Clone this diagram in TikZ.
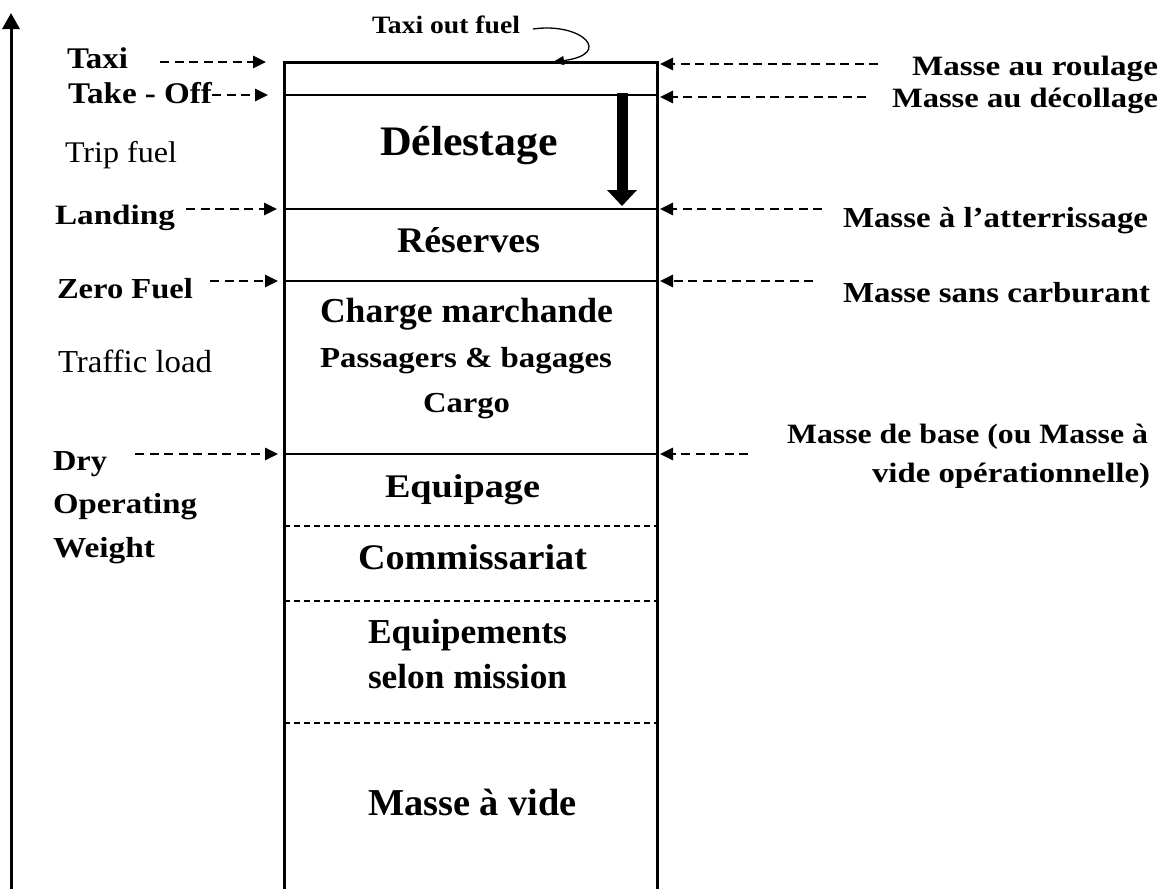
\documentclass[tikz,border=0pt]{standalone}
\usepackage{fontspec}
\setmainfont{Liberation Serif}
\usepackage{graphicx}
\usetikzlibrary{arrows.meta}
\newcommand{\fitt}[3]{{\fontsize{#1}{#1}\selectfont\resizebox{#2pt}{\height}{#3}}}
\tikzset{
  lbl/.style={anchor=base west, inner sep=0pt, outer sep=0pt, font=\bfseries},
  lblreg/.style={anchor=base west, inner sep=0pt, outer sep=0pt, font=\mdseries},
  dasharrow/.style={line width=2.6pt, dash pattern=on 9pt off 5.5pt, -{Triangle[length=13pt,width=12pt]}},
  wall/.style={line width=3pt},
  divider/.style={line width=1.4pt},
  subdivider/.style={line width=1.1pt, dash pattern=on 6pt off 4pt},
}
\begin{document}
\begin{tikzpicture}[x=1pt,y=-1pt]
\useasboundingbox (0,0) rectangle (1173,889);

% vertical axis
\coordinate (axB) at (11,889);
\coordinate (axT) at (11,13);
\draw[line width=3pt, -{Triangle[length=16pt,width=17pt]}] (axB) -- (axT);

% box
\coordinate (bl) at (284,889);
\coordinate (tl) at (284,62);
\coordinate (tr) at (657,62);
\coordinate (br) at (657,889);
\draw[wall] (bl) -- (tl) -- (tr) -- (br);
\draw[divider] (284,95) -- (657,95);
\draw[divider] (284,209) -- (657,209);
\draw[divider] (284,281) -- (657,281);
\draw[divider] (284,454) -- (657,454);
\draw[subdivider] (284,526) -- (657,526);
\draw[subdivider] (284,601) -- (657,601);
\draw[subdivider] (284,723) -- (657,723);

% thick arrow (Délestage)
\coordinate (dA) at (622,93);
\coordinate (dB) at (622,206);
\draw[line width=11pt, -{Triangle[length=16pt,width=29pt]}] (dA) -- (dB);

% box contents
\node[lbl] (delest) at (380,155) {\fitt{42}{178}{Délestage}};
\node[lbl] (reserv) at (397,252) {\fitt{36}{143}{Réserves}};
\node[lbl] (charge) at (320,322) {\fitt{35}{293}{Charge marchande}};
\node[lbl] (passag) at (320,367) {\fitt{29}{292}{Passagers \& bagages}};
\node[lbl] (cargo) at (423,412) {\fitt{29}{87}{Cargo}};
\node[lbl] (equipa) at (385,497) {\fitt{33}{155}{Equipage}};
\node[lbl] (commis) at (358,569) {\fitt{36}{229}{Commissariat}};
\node[lbl] (equipe) at (368,643) {\fitt{35}{199}{Equipements}};
\node[lbl] (selon) at (368,688) {\fitt{35}{199}{selon mission}};
\node[lbl] (mvide) at (368,815) {\fitt{38}{209}{Masse à vide}};

% taxi out fuel
\node[lbl] (tof) at (372,33) {\fitt{25}{148}{Taxi out fuel}};
\coordinate (tofS) at (533,29);
\coordinate (tofE) at (553,62);
\draw[line width=1.3pt, -{Triangle[length=11pt,width=9pt]}] (tofS) .. controls (582,22) and (614,54) .. (tofE);

% left labels
\node[lbl] (taxi) at (67,68) {\fitt{30}{61}{Taxi}};
\node[lbl] (takeoff) at (68,103) {\fitt{30}{144}{Take - Off}};
\node[lblreg] (trip) at (65,162) {\fitt{30}{112}{Trip fuel}};
\node[lbl] (landing) at (55,224) {\fitt{28}{120}{Landing}};
\node[lbl] (zero) at (57,298) {\fitt{29}{136}{Zero Fuel}};
\node[lblreg] (traffic) at (58,372) {\fitt{32}{154}{Traffic load}};
\node[lbl] (dry) at (53,470) {\fitt{29}{54}{Dry}};
\node[lbl] (operating) at (53,513) {\fitt{29}{144}{Operating}};
\node[lbl] (weight) at (53,557) {\fitt{29}{102}{Weight}};

\coordinate (taxiS) at (160,62);   \coordinate (taxiE) at (266,62);
\coordinate (toS) at (212,95);     \coordinate (toE) at (268,95);
\coordinate (landS) at (186,209);  \coordinate (landE) at (277,209);
\coordinate (zeroS) at (210,281);  \coordinate (zeroE) at (278,281);
\coordinate (dowS) at (135,454);   \coordinate (dowE) at (278,454);
\draw[dasharrow] (taxiS) -- (taxiE);
\draw[dasharrow] (toS) -- (toE);
\draw[dasharrow] (landS) -- (landE);
\draw[dasharrow] (zeroS) -- (zeroE);
\draw[dasharrow] (dowS) -- (dowE);

% right labels
\node[lbl] (mroul) at (912,75) {\fitt{28}{246}{Masse au roulage}};
\node[lbl] (mdeco) at (892,107) {\fitt{28}{266}{Masse au décollage}};
\node[lbl] (matt) at (843,227) {\fitt{29}{305}{Masse à l’atterrissage}};
\node[lbl] (msans) at (843,302) {\fitt{29}{307}{Masse sans carburant}};
\node[lbl] (mbase1) at (787,443) {\fitt{28}{361}{Masse de base (ou Masse à}};
\node[lbl] (mbase2) at (872,482) {\fitt{28}{278}{vide opérationnelle)}};

\coordinate (rroulS) at (878,64);  \coordinate (rroulE) at (660,64);
\coordinate (rdecoS) at (866,97);  \coordinate (rdecoE) at (660,97);
\coordinate (rattS) at (822,209);  \coordinate (rattE) at (660,209);
\coordinate (rsansS) at (813,281); \coordinate (rsansE) at (660,281);
\coordinate (rbaseS) at (748,454); \coordinate (rbaseE) at (660,454);
\draw[dasharrow] (rroulS) -- (rroulE);
\draw[dasharrow] (rdecoS) -- (rdecoE);
\draw[dasharrow] (rattS) -- (rattE);
\draw[dasharrow] (rsansS) -- (rsansE);
\draw[dasharrow] (rbaseS) -- (rbaseE);
\end{tikzpicture}
\end{document}
